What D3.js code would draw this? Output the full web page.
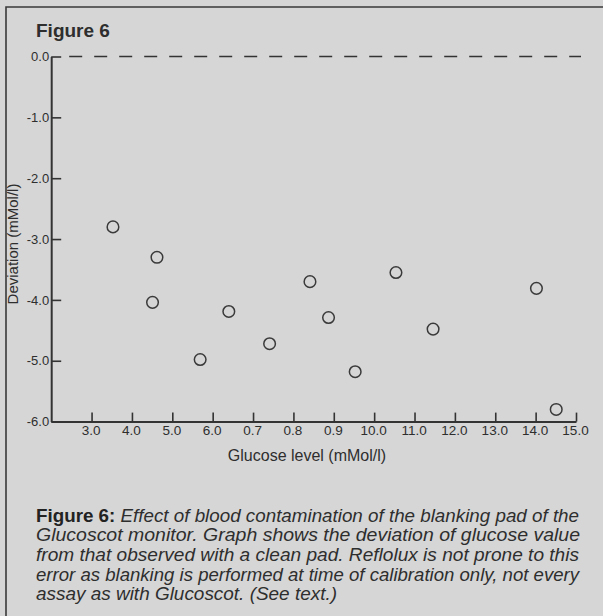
<!DOCTYPE html>
<html>
<head>
<meta charset="utf-8">
<script src="https://cdn.jsdelivr.net/npm/d3@7"></script>
<style>
  html, body { margin: 0; padding: 0; background: #d6d6d6; }
  svg { display: block; }
  text { font-family: "Liberation Sans", Arial, Helvetica, sans-serif; fill: #2e2e2e; }
</style>
</head>
<body>
<svg id="chart" width="603" height="616"></svg>
<script>
// Glucose level (mMol/l) of each sample
const glucose = [3.53, 4.62, 4.51, 5.69, 6.40, 7.41, 8.41, 8.87, 9.53, 10.54, 11.46, 14.02, 14.51];
// Deviation from the clean-pad reading (mMol/l)
const deviation = [-2.80, -3.30, -4.04, -4.98, -4.19, -4.72, -3.70, -4.29, -5.18, -3.55, -4.48, -3.81, -5.80];

// Axis ticks and their printed labels
const xTicks = [3, 4, 5, 6, 7, 8, 9, 10, 11, 12, 13, 14, 15];
const xTickLabels = ["3.0", "4.0", "5.0", "6.0", "0.7", "0.8", "0.9", "10.0", "11.0", "12.0", "13.0", "14.0", "15.0"];
const yTicks = [0, -1, -2, -3, -4, -5, -6];
const yTickLabels = ["0.0", "-1.0", "-2.0", "-3.0", "-4.0", "-5.0", "-6.0"];

const title = "Figure 6";
const xTitle = "Glucose level (mMol/l)";
const yTitle = "Deviation (mMol/l)";
const captionLead = "Figure 6:";
const captionLines = [
  " Effect of blood contamination of the blanking pad of the",
  "Glucoscot monitor. Graph shows the deviation of glucose value",
  "from that observed with a clean pad. Reflolux is not prone to this",
  "error as blanking is performed at time of calibration only, not every",
  "assay as with Glucoscot. (See text.)"
];

const svg = d3.select("#chart");
const ink = "#333";

svg.append("rect").attr("width", 603).attr("height", 616).attr("fill", "#d6d6d6");

// panel frame (left and top rules)
svg.append("path")
  .attr("d", "M6,616 V7 H603")
  .attr("fill", "none").attr("stroke", "#3a3a3a").attr("stroke-width", 1.6);

const x = d3.scaleLinear().domain([2, 15]).range([51.2, 576]);
const y = d3.scaleLinear().domain([-6, 0]).range([421.6, 56.5]);

// zero reference line
svg.append("line")
  .attr("x1", x(2) + 18).attr("x2", 581)
  .attr("y1", y(0)).attr("y2", y(0))
  .attr("stroke", ink).attr("stroke-width", 1.3)
  .attr("stroke-dasharray", "13,12");

// x axis
const xAxis = d3.axisBottom(x)
  .tickValues(xTicks)
  .tickFormat((d, i) => xTickLabels[i])
  .tickSizeInner(-9).tickSizeOuter(0).tickPadding(3.5);
const gx = svg.append("g").attr("transform", `translate(0,${y(-6)})`).call(xAxis);
gx.select(".domain").attr("stroke", ink).attr("stroke-width", 2);
gx.selectAll(".tick line").attr("stroke", ink).attr("stroke-width", 1.6);
gx.selectAll(".tick text").attr("font-size", 13.5).attr("fill", "#2e2e2e")
  .attr("font-family", "'Liberation Sans', Arial, sans-serif").attr("dx", -1);

// y axis
const yAxis = d3.axisLeft(y)
  .tickValues(yTicks)
  .tickFormat((d, i) => yTickLabels[i])
  .tickSizeInner(-10).tickSizeOuter(0).tickPadding(2);
const gy = svg.append("g").attr("transform", `translate(${x(2)},0)`).call(yAxis);
gy.select(".domain").attr("stroke", ink).attr("stroke-width", 2);
gy.selectAll(".tick line").attr("stroke", ink).attr("stroke-width", 1.6);
gy.selectAll(".tick text").attr("font-size", 13).attr("fill", "#2e2e2e")
  .attr("font-family", "'Liberation Sans', Arial, sans-serif");

// data points
svg.append("g").selectAll("circle")
  .data(glucose.map((g, i) => ({ g, d: deviation[i] })))
  .join("circle")
  .attr("cx", p => x(p.g))
  .attr("cy", p => y(p.d))
  .attr("r", 5.8)
  .attr("fill", "none")
  .attr("stroke", "#3a3a3a")
  .attr("stroke-width", 1.5);

// titles
svg.append("text").attr("x", 36).attr("y", 37)
  .attr("font-size", 19).attr("font-weight", "bold").attr("fill", "#2a2a2a")
  .text(title);

svg.append("text").attr("x", 307).attr("y", 461)
  .attr("text-anchor", "middle").attr("font-size", 16)
  .text(xTitle);

svg.append("text")
  .attr("transform", `translate(18,244) rotate(-90)`)
  .attr("text-anchor", "middle").attr("font-size", 15)
  .text(yTitle);

// caption
const capBase = [521.5, 541.2, 561, 580.5, 600];
const capWidth = [543, 544, 543, 543, 301];
captionLines.forEach((line, i) => {
  const t = svg.append("text")
    .attr("x", 36).attr("y", capBase[i])
    .attr("font-size", 17.5)
    .attr("textLength", capWidth[i])
    .attr("lengthAdjust", "spacingAndGlyphs");
  if (i === 0) {
    t.append("tspan").attr("font-weight", "bold").attr("fill", "#222").text(captionLead);
  }
  t.append("tspan").attr("font-style", "italic").text(line);
});
</script>
</body>
</html>
